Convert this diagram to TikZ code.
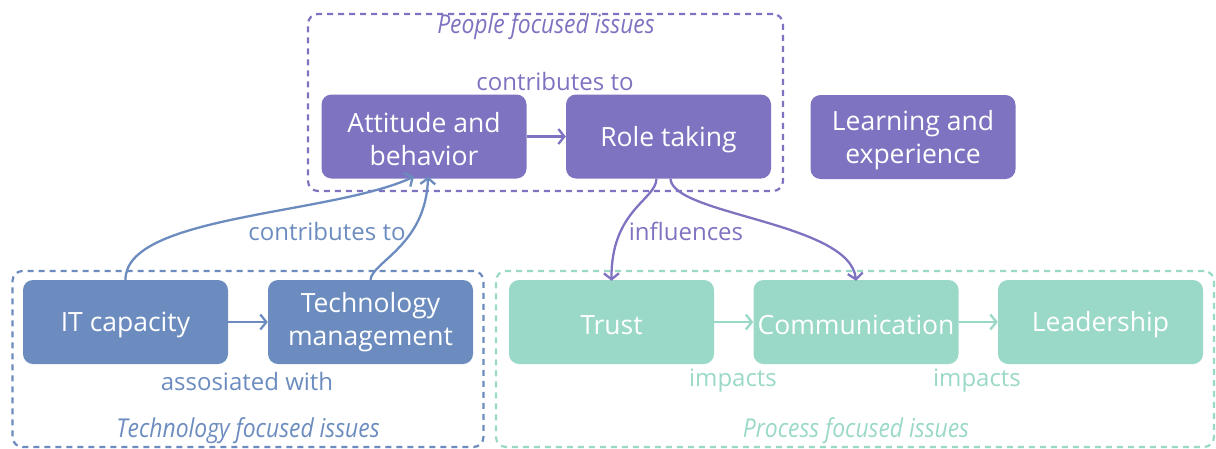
\documentclass[tikz,border=0pt]{standalone}
\usepackage{fontspec}
\setmainfont{Open Sans}
\usetikzlibrary{arrows.meta,calc}
\definecolor{cP}{RGB}{126,115,193}
\definecolor{cB}{RGB}{108,140,191}
\definecolor{cT}{RGB}{154,216,200}
\tikzset{
  box/.style={rounded corners=10pt, minimum width=205pt, minimum height=84pt, align=center, text=white, font=\fontsize{26.5}{33}\selectfont, inner sep=0pt},
  grp/.style={draw, dashed, dash pattern=on 6pt off 5pt, line width=2.2pt, rounded corners=10pt, inner sep=0pt},
  conn/.style={line width=2.3pt, -{Straight Barb[length=6pt,width=15pt,line width=2.3pt]}},
  elab/.style={font=\fontsize{24}{28}\selectfont, inner sep=0pt},
  glab/.style={font=\fontsize{26}{28}\selectfont\itshape, inner sep=0pt}
}
\newcommand{\cond}[1]{\scalebox{0.88}[1]{#1}}
\newcommand{\lowtxt}[1]{\raisebox{-3pt}[\height][\depth]{#1}}
\begin{document}
\begin{tikzpicture}[x=1pt,y=-1pt]
\useasboundingbox (0,0) rectangle (1216,448);
% groups
\node[grp, draw=cP, minimum width=475pt, minimum height=177pt] (gP) at (545.5,102.5) {};
\node[grp, draw=cB, minimum width=471pt, minimum height=176pt] (gB) at (248,359) {};
\node[grp, draw=cT, minimum width=718pt, minimum height=176pt] (gT) at (855,359) {};
\node[glab, text=cP] (lP) at (546,27) {\cond{People focused issues}};
\node[glab, text=cB] (lB) at (248,431) {\cond{Technology focused issues}};
\node[glab, text=cT] (lT) at (856,431) {\cond{Process focused issues}};
% nodes
\node[box, fill=cP] (att) at (424,136.5) {\lowtxt{Attitude and}\\\lowtxt{behavior}};
\node[box, fill=cP] (role) at (668.5,136.5) {\lowtxt{Role taking}};
\node[box, fill=cP] (learn) at (913,137) {\lowtxt{Learning and}\\\lowtxt{experience}};
\node[box, fill=cB] (itc) at (125.5,322) {\lowtxt{IT capacity}};
\node[box, fill=cB] (tech) at (370.5,322) {Technology\\management};
\node[box, fill=cT] (trust) at (611.5,322) {\lowtxt{Trust}};
\node[box, fill=cT] (comm) at (856,322) {\lowtxt{Communication}};
\node[box, fill=cT] (lead) at (1100.5,322) {\lowtxt{Leadership}};
% edges
\draw[conn, cP] (att) -- (role);
\draw[conn, cB] (itc) -- (tech);
\draw[conn, cT] (trust) -- (comm);
\draw[conn, cT] (comm) -- (lead);
\draw[conn, cB] (itc.north) .. controls (125,215) and (330,215) .. ([xshift=-10pt,yshift=2pt]att.south);
\draw[conn, cB] (tech.north) .. controls (372,262) and (426,245) .. ([xshift=4pt,yshift=2pt]att.south);
\draw[conn, cP] ([xshift=-12pt]role.south) .. controls (656,200) and (611,210) .. ([yshift=-1pt]trust.north);
\draw[conn, cP] ([xshift=2pt]role.south) .. controls (672,215) and (850,222) .. ([yshift=-1pt]comm.north);
% edge labels
\node[elab, text=cP] (e1) at (555,81) {contributes to};
\node[elab, text=cB] (e2) at (327,231) {contributes to};
\node[elab, text=cB] (e3) at (247,381) {assosiated with};
\node[elab, text=cP] (e4) at (686,231) {influences};
\node[elab, text=cT] (e5) at (733,381) {impacts};
\node[elab, text=cT] (e6) at (977,381) {impacts};
\end{tikzpicture}
\end{document}
